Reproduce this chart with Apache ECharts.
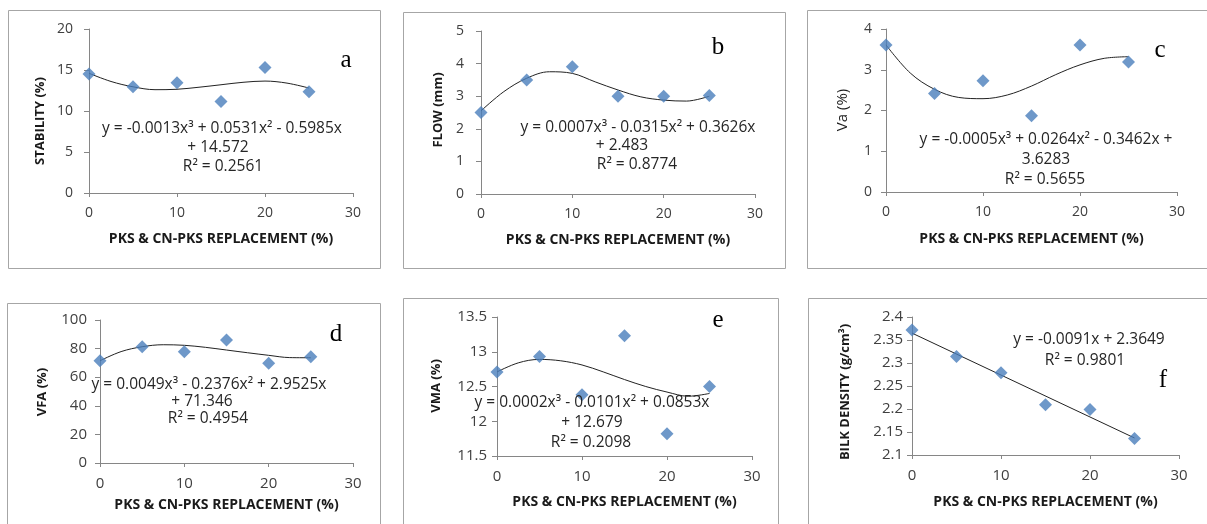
<!DOCTYPE html>
<html><head><meta charset="utf-8">
<script src="https://cdn.jsdelivr.net/npm/echarts@6/dist/echarts.min.js"></script>
<style>html,body{margin:0;padding:0;background:#fff;}#c{width:1207px;height:524px;}</style>
</head><body><div id="c"></div>
<script>
// ---------- data ----------
const replacement = [0, 5, 10, 15, 20, 25];
const xTicks = [0, 10, 20, 30];
const trendX = [0, 2.5, 5, 7.5, 10, 12.5, 15, 17.5, 20, 22.5, 25];
const linearTrendX = [0, 25];

const stability = [14.5, 12.95, 13.45, 11.15, 15.3, 12.35];
const stabilityTrend = [14.6, 13.6, 12.95, 12.6, 12.65, 12.9, 13.2, 13.5, 13.65, 13.4, 12.8];
const stabilityTicks = [0, 5, 10, 15, 20];

const flow = [2.5, 3.5, 3.9, 3.0, 3.0, 3.02];
const flowTrend = [2.55, 3.14, 3.55, 3.75, 3.7, 3.44, 3.19, 2.98, 2.88, 2.85, 3.0];
const flowTicks = [0, 1, 2, 3, 4, 5];

const va = [3.61, 2.42, 2.73, 1.87, 3.61, 3.19];
const vaTrend = [3.61, 2.92, 2.52, 2.32, 2.29, 2.38, 2.6, 2.88, 3.12, 3.28, 3.32];
const vaTicks = [0, 1, 2, 3, 4];

const vfa = [71.5, 81.3, 77.8, 86.0, 69.7, 74.3];
const vfaTrend = [71.5, 77.9, 81.3, 82.7, 82.3, 80.9, 79.0, 77.1, 75.3, 73.7, 73.6];
const vfaTicks = [0, 20, 40, 60, 80, 100];

const vma = [12.71, 12.93, 12.38, 13.23, 11.82, 12.5];
const vmaTrend = [12.71, 12.84, 12.89, 12.87, 12.81, 12.71, 12.60, 12.50, 12.42, 12.36, 12.40];
const vmaTicks = [11.5, 12, 12.5, 13, 13.5];

const density = [2.372, 2.314, 2.279, 2.209, 2.199, 2.136];
const densityTrend = [2.365, 2.137];
const densityTicks = [2.1, 2.15, 2.2, 2.25, 2.3, 2.35, 2.4];

const xTitle = 'PKS & CN-PKS REPLACEMENT (%)';
const yTitles = ['STABILITY (%)', 'FLOW (mm)', 'Va (%)', 'VFA (%)', 'VMA (%)', 'BILK DENSITY (g/cm³)'];
const letters = ['a', 'b', 'c', 'd', 'e', 'f'];
const equations = [
  ['y = -0.0013x³ + 0.0531x² - 0.5985x', '+ 14.572', 'R² = 0.2561'],
  ['y = 0.0007x³ - 0.0315x² + 0.3626x', '+ 2.483', 'R² = 0.8774'],
  ['y = -0.0005x³ + 0.0264x² - 0.3462x +', '3.6283', 'R² = 0.5655'],
  ['y = 0.0049x³ - 0.2376x² + 2.9525x', '+ 71.346', 'R² = 0.4954'],
  ['y = 0.0002x³ - 0.0101x² + 0.0853x', '+ 12.679', 'R² = 0.2098'],
  ['y = -0.0091x + 2.3649', 'R² = 0.9801']
];

// ---------- layout (pixels) ----------
const layout = [
  {grid:{left:89, top:29, width:264, height:164}, box:[8,10,372,258], yMargin:16, xGap:39, fs:14,
   yTitle:[40,121], letter:[346,60], eq:[[222,129],[218,148],[223,167]]},
  {grid:{left:481, top:31, width:274, height:163}, box:[403,12,382,256], yMargin:17, xGap:39, fs:14,
   yTitle:[438,110], letter:[718,47], eq:[[638,128],[622,146],[637,165]]},
  {grid:{left:886, top:29, width:291, height:163}, box:[807,10,410,258], yMargin:14, xGap:40, fs:14,
   yTitle:[843,110], letter:[1160,50], eq:[[1046,140],[1046,160],[1045,180]]},
  {grid:{left:100, top:320, width:253, height:143}, box:[7,303,373,240], yMargin:13, xGap:35, fs:15,
   yTitle:[42,392], letter:[336,334], eq:[[209,385],[202,402],[208,419]]},
  {grid:{left:497, top:317, width:255, height:139}, box:[403,298,375,240], yMargin:10, xGap:39, fs:15,
   yTitle:[436,386], letter:[718,320], eq:[[592,403],[592,423],[591,443]]},
  {grid:{left:912, top:317, width:267, height:138}, box:[808,298,410,240], yMargin:9, xGap:40, fs:15,
   yTitle:[845,392], letter:[1163,380], eq:[[1089,340],[1085,361]]}
];

const values = [stability, flow, va, vfa, vma, density];
const trends = [stabilityTrend, flowTrend, vaTrend, vfaTrend, vmaTrend, densityTrend];
const trendXs = [trendX, trendX, trendX, trendX, trendX, linearTrendX];
const yTickSets = [stabilityTicks, flowTicks, vaTicks, vfaTicks, vmaTicks, densityTicks];

const FONT = '"Open Sans", "Liberation Sans", sans-serif';
const axisColor = '#868686';
const labelColor = '#404040';

const grids = [], xAxes = [], yAxes = [], series = [], graphics = [];
layout.forEach((L, i) => {
  grids.push(Object.assign({containLabel:false}, L.grid));
  xAxes.push({
    type:'value', gridIndex:i, min:xTicks[0], max:xTicks[xTicks.length-1], interval:xTicks[1]-xTicks[0],
    axisLine:{show:true, onZero:false, lineStyle:{color:axisColor, width:1}},
    axisTick:{show:true, length:4, lineStyle:{color:axisColor}},
    axisLabel:{color:labelColor, fontSize:L.fs, fontFamily:FONT, margin:13},
    splitLine:{show:false},
    name:xTitle, nameLocation:'middle', nameGap:L.xGap,
    nameTextStyle:{fontFamily:FONT, fontWeight:'bold', fontSize:14, color:'#1a1a1a'}
  });
  const t = yTickSets[i];
  const step = +(t[1]-t[0]).toFixed(4);
  yAxes.push({
    type:'value', gridIndex:i, min:t[0], max:t[t.length-1], interval:step,
    axisLine:{show:true, onZero:false, lineStyle:{color:axisColor, width:1}},
    axisTick:{show:true, length:5, lineStyle:{color:axisColor}},
    axisLabel:{color:labelColor, fontSize:L.fs, fontFamily:FONT, margin:L.yMargin,
      formatter: v => String(+v.toFixed(3))},
    splitLine:{show:false}
  });
  series.push({
    type:'line', xAxisIndex:i, yAxisIndex:i, smooth: i === 5 ? false : 0.35, showSymbol:false,
    symbol:'none', lineStyle:{color:'#222', width:1}, z:2, silent:true,
    data: trendXs[i].map((x, k) => [x, trends[i][k]])
  });
  series.push({
    type:'scatter', xAxisIndex:i, yAxisIndex:i, symbol:'diamond', symbolSize:13, z:3,
    itemStyle:{color:'#4A7EBB'},
    data: replacement.map((x, k) => [x, values[i][k]])
  });
  graphics.push({type:'rect', silent:true, z:0,
    shape:{x:L.box[0]+0.5, y:L.box[1]+0.5, width:L.box[2], height:L.box[3]},
    style:{fill:'none', stroke:'#a6a6a6', lineWidth:1}});
  graphics.push({type:'text', x:L.yTitle[0], y:L.yTitle[1], rotation:Math.PI/2, z:5,
    style:{text:yTitles[i], fontFamily:FONT, fontWeight: i===2 ? 'normal' : 'bold', fontSize: i===2 ? 15 : 13,
      fill:'#1a1a1a', align:'center', verticalAlign:'middle', textAlign:'center', textVerticalAlign:'middle'}});
  graphics.push({type:'text', x:L.letter[0], y:L.letter[1], z:5,
    style:{text:letters[i], fontFamily:'"Liberation Serif", "Times New Roman", serif', fontSize:25,
      fill:'#000', align:'center', verticalAlign:'middle', textAlign:'center', textVerticalAlign:'middle'}});
  equations[i].forEach((line, k) => {
    graphics.push({type:'text', x:L.eq[k][0], y:L.eq[k][1], z:5,
      style:{text:line, fontFamily:FONT, fontSize:15.5, fill:'#262626',
        align:'center', verticalAlign:'middle', textAlign:'center', textVerticalAlign:'middle'}});
  });
});

const chart = echarts.init(document.getElementById('c'), null, {renderer:'canvas'});
chart.setOption({
  animation:false,
  backgroundColor:'#ffffff',
  grid:grids, xAxis:xAxes, yAxis:yAxes, series:series,
  graphic:{elements:graphics}
});
</script></body></html>
